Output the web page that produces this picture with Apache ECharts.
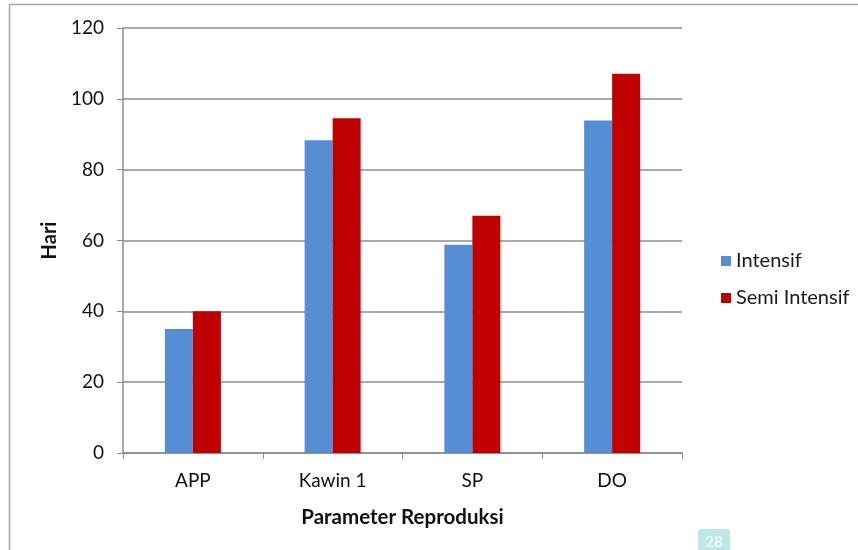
<!DOCTYPE html>
<html><head><meta charset="utf-8">
<script src="https://cdn.jsdelivr.net/npm/echarts@6/dist/echarts.min.js"></script>
<style>html,body{margin:0;padding:0;background:#fff}#c{width:858px;height:550px}</style>
</head><body><div id="c"></div>
<script>
const categories = ['APP', 'Kawin 1', 'SP', 'DO'];
const intensif = [35, 88.3, 58.8, 93.9];
const semiIntensif = [40, 94.5, 67, 107.1];
const yTicks = [0, 20, 40, 60, 80, 100, 120];

const font = 'Lato, "Open Sans", sans-serif';
const chart = echarts.init(document.getElementById('c'), null, {renderer: 'canvas'});
chart.setOption({
  animation: false,
  backgroundColor: '#fff',
  textStyle: {fontFamily: font},
  graphic: [
    {type: 'line', shape: {x1: 9.5, y1: 4.5, x2: 858, y2: 4.5}, style: {stroke: '#a6a6a6', lineWidth: 1.5}},
    {type: 'line', shape: {x1: 9.5, y1: 4.5, x2: 9.5, y2: 550}, style: {stroke: '#a6a6a6', lineWidth: 1.5}},
    {type: 'rect', shape: {x: 698, y: 529, width: 32, height: 24, r: 3}, style: {fill: '#bfe6e8'}},
    {type: 'text', x: 714, y: 542, style: {text: '28', fill: '#fff', font: '15px ' + font, textAlign: 'center', textVerticalAlign: 'middle'}}
  ],
  legend: {
    orient: 'vertical', left: 716, top: 245, itemWidth: 10, itemHeight: 10, itemGap: 15,
    icon: 'rect',
    textStyle: {fontSize: 20, color: '#1a1a1a', fontFamily: font, lineHeight: 22}
  },
  grid: {left: 123, right: 176, top: 28, bottom: 97, containLabel: false},
  xAxis: {
    type: 'category', data: categories,
    name: 'Parameter Reproduksi', nameLocation: 'middle', nameGap: 54,
    nameTextStyle: {fontSize: 20.5, fontWeight: 'bold', color: '#111', fontFamily: font},
    axisLine: {lineStyle: {color: '#8c8c8c', width: 1.5}},
    axisTick: {show: true, length: 6, lineStyle: {color: '#8c8c8c'}},
    axisLabel: {fontSize: 19, color: '#111', margin: 18, fontFamily: font}
  },
  yAxis: {
    type: 'value', min: 0, max: 120, interval: 20,
    name: 'Hari', nameLocation: 'middle', nameGap: 60,
    nameTextStyle: {fontSize: 20, fontWeight: 'bold', color: '#111', fontFamily: font},
    axisLine: {show: true, lineStyle: {color: '#8c8c8c', width: 1.5}},
    axisTick: {show: true, length: 6, lineStyle: {color: '#8c8c8c'}},
    axisLabel: {fontSize: 19, color: '#111', margin: 19, fontFamily: font,
      formatter: v => yTicks.includes(v) ? String(v) : ''},
    splitLine: {lineStyle: {color: '#8c8c8c', width: 1.5}}
  },
  series: [
    {name: 'Intensif', type: 'bar', data: intensif, barWidth: 28, barGap: '0%',
     itemStyle: {color: '#558ED5'}},
    {name: 'Semi Intensif', type: 'bar', data: semiIntensif, barWidth: 28, barGap: '0%',
     itemStyle: {color: '#C00000'}}
  ]
});
</script></body></html>
